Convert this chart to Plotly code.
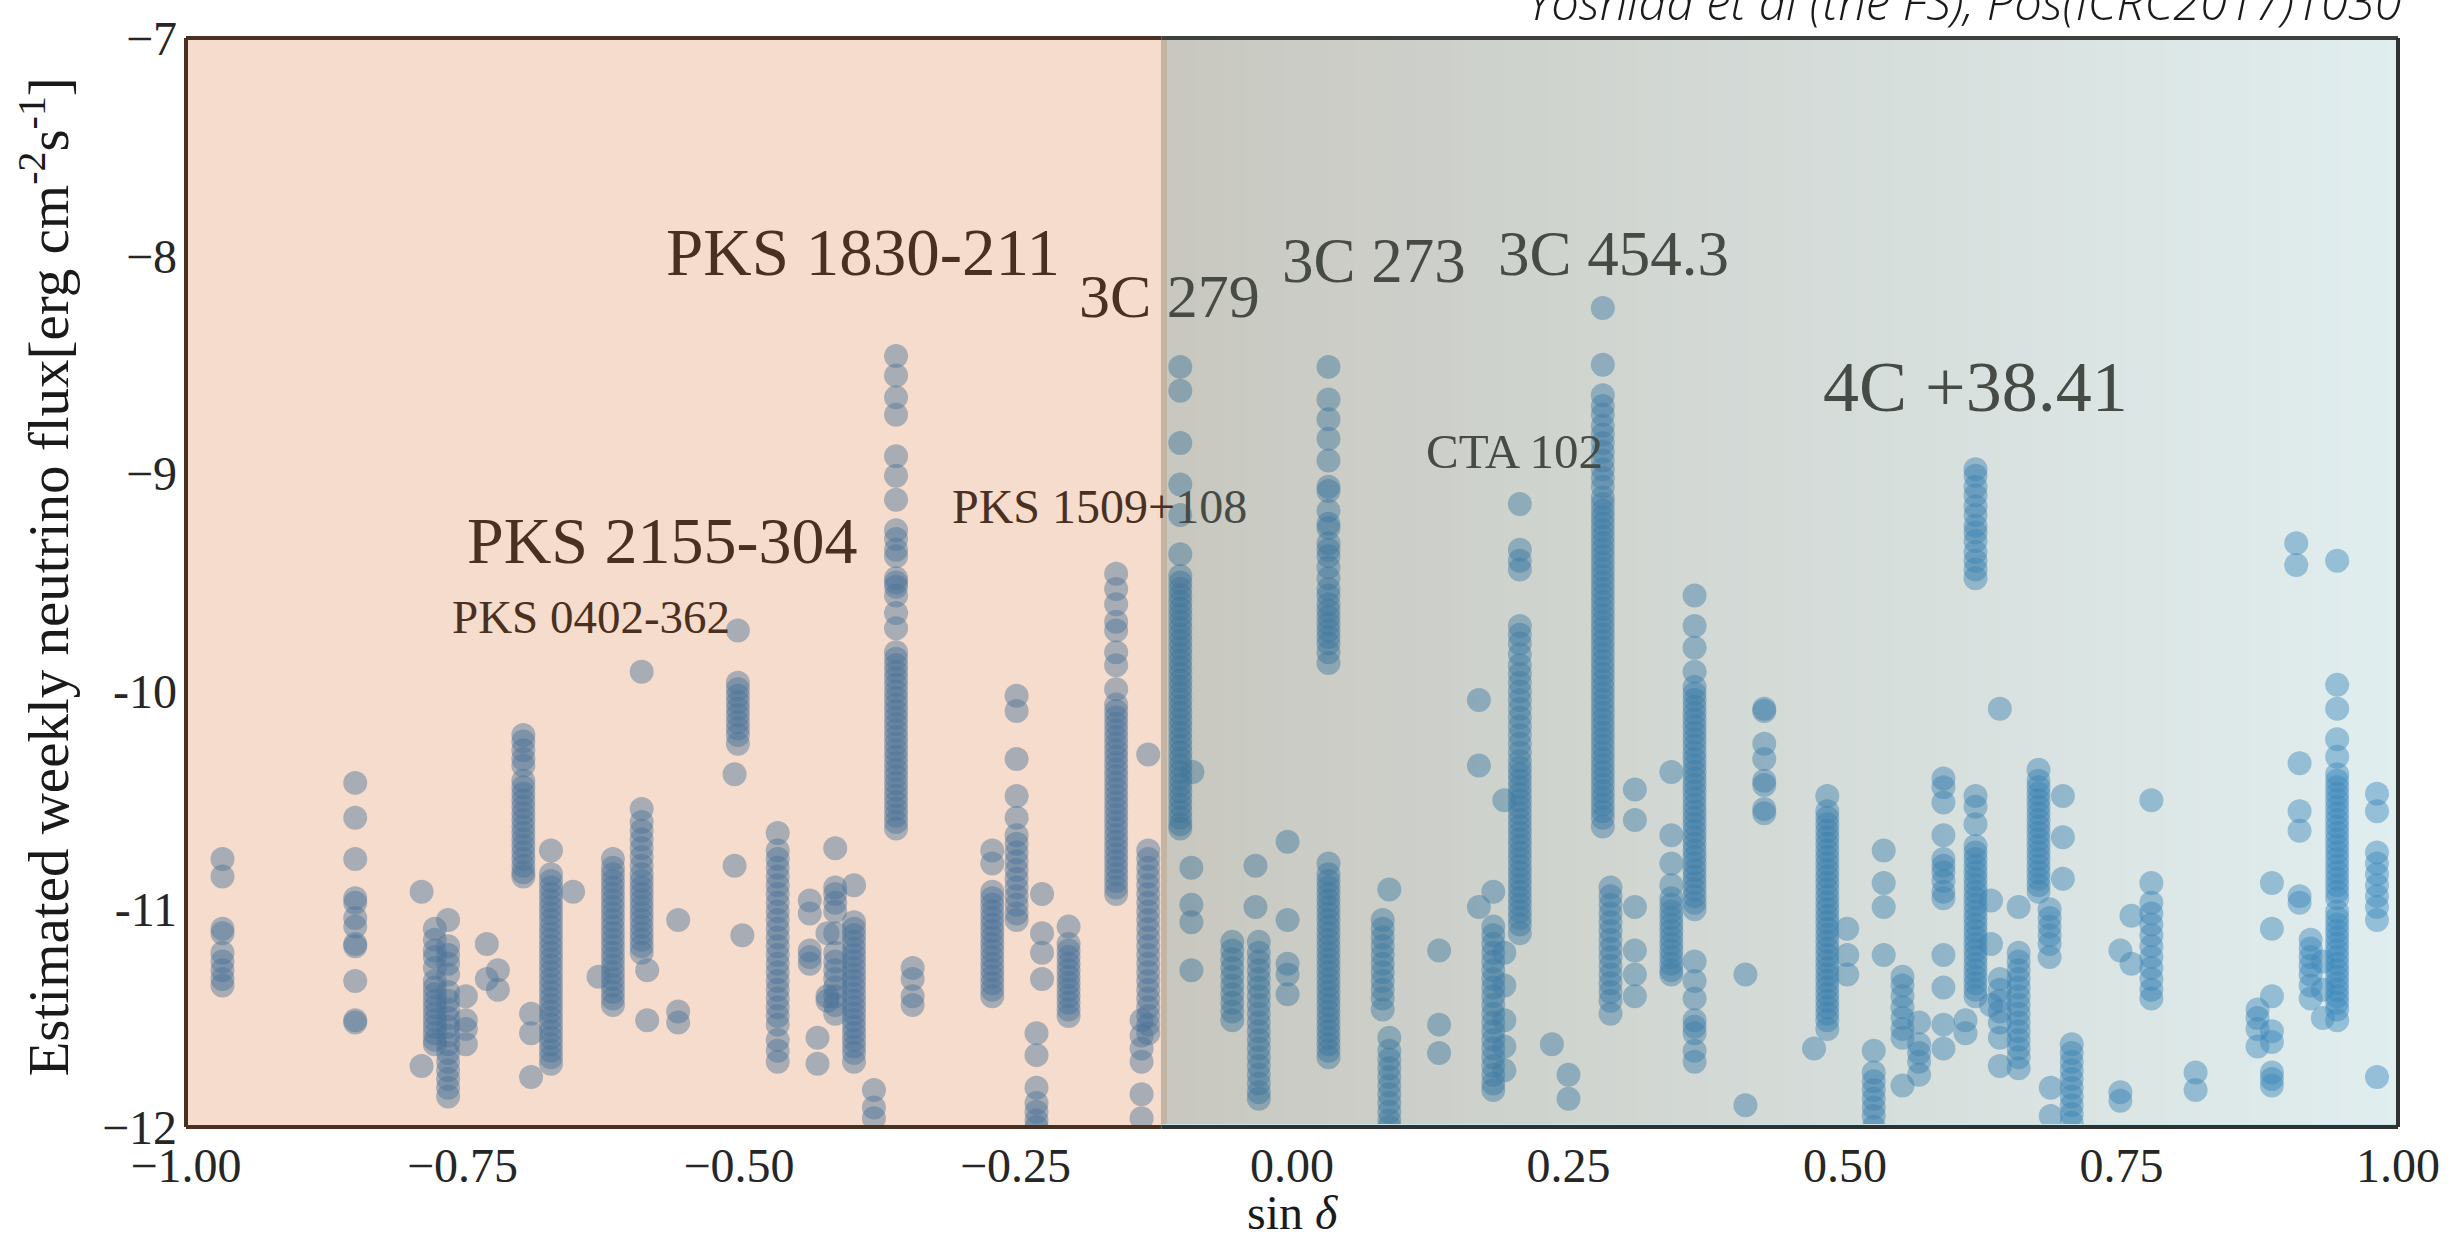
import base64
import struct
import zlib

import plotly.graph_objects as go

# ---------------------------------------------------------------------------
# Data: one entry per source column (sin of declination) with its weekly
# log10 flux estimates.
# ---------------------------------------------------------------------------
column_sin_dec = [
    -0.967, -0.847, -0.787, -0.775, -0.763, -0.747, -0.728, -0.718, -0.695, -0.688,
    -0.670, -0.650, -0.627, -0.614, -0.588, -0.583, -0.555, -0.501, -0.504, -0.497,
    -0.465, -0.436, -0.429, -0.420, -0.413, -0.396, -0.378, -0.358, -0.343, -0.271,
    -0.249, -0.226, -0.231, -0.202, -0.159, -0.130, -0.136, -0.101, -0.090, -0.091,
    -0.054, -0.033, -0.030, -0.004, 0.033, 0.088, 0.082, 0.133, 0.169, 0.182,
    0.192, 0.206, 0.235, 0.250, 0.281, 0.288, 0.310, 0.343, 0.364, 0.410,
    0.427, 0.472, 0.484, 0.502, 0.535, 0.526, 0.552, 0.567, 0.589, 0.618,
    0.609, 0.632, 0.640, 0.657, 0.675, 0.685, 0.697, 0.705, 0.686, 0.749,
    0.759, 0.777, 0.817, 0.873, 0.886, 0.908, 0.911, 0.921, 0.932, 0.945,
    0.981,
]

column_log_flux = [
    [-10.77, -10.85, -11.09, -11.11, -11.20, -11.24, -11.28, -11.32, -11.35],
    [-10.42, -10.58, -10.77, -10.95, -10.97, -11.04, -11.08, -11.16, -11.17, -11.33, -11.51, -11.52],
    [-10.92, -11.72],
    [-11.09, -11.14, -11.19, -11.22, -11.27, -11.33, -11.36, -11.39, -11.42, -11.45, -11.48, -11.51,
     -11.54, -11.57, -11.60, -11.62],
    [-11.05, -11.17, -11.21, -11.25, -11.30, -11.38, -11.42, -11.46, -11.50, -11.54, -11.58, -11.62,
     -11.66, -11.70, -11.74, -11.78, -11.82, -11.86],
    [-11.40, -11.51, -11.55, -11.62],
    [-11.16, -11.32],
    [-11.28, -11.37],
    [-10.20, -10.23, -10.27, -10.31, -10.34, -10.41, -10.44, -10.47, -10.50, -10.53, -10.56, -10.59,
     -10.62, -10.65, -10.68, -10.71, -10.74, -10.77, -10.80, -10.83, -10.85],
    [-11.48, -11.57, -11.77],
    [-10.73, -10.84, -10.87, -10.90, -10.93, -10.96, -10.99, -11.02, -11.05, -11.08, -11.11, -11.14,
     -11.17, -11.20, -11.23, -11.26, -11.29, -11.32, -11.35, -11.38, -11.41, -11.44, -11.47, -11.50,
     -11.53, -11.56, -11.59, -11.62, -11.65, -11.68, -11.71],
    [-10.92],
    [-11.31],
    [-10.77, -10.81, -10.84, -10.87, -10.90, -10.93, -10.96, -10.99, -11.02, -11.05, -11.08, -11.11,
     -11.14, -11.17, -11.20, -11.23, -11.26, -11.29, -11.32, -11.35, -11.38, -11.41, -11.44],
    [-9.91, -10.54, -10.60, -10.64, -10.68, -10.72, -10.76, -10.80, -10.84, -10.87, -10.90, -10.93,
     -10.96, -10.99, -11.02, -11.05, -11.08, -11.11, -11.14, -11.17, -11.20],
    [-11.28, -11.51],
    [-11.05, -11.47, -11.52],
    [-9.72, -9.96, -9.99, -10.02, -10.05, -10.08, -10.11, -10.14, -10.17, -10.20, -10.24],
    [-10.38, -10.80],
    [-11.12],
    [-10.65, -10.73, -10.77, -10.81, -10.85, -10.89, -10.93, -10.97, -11.01, -11.05, -11.09, -11.13,
     -11.17, -11.21, -11.25, -11.29, -11.33, -11.37, -11.41, -11.45, -11.49, -11.53, -11.60, -11.65,
     -11.70],
    [-10.96, -11.02, -11.19, -11.22, -11.25],
    [-11.59, -11.71],
    [-11.11, -11.40, -11.42],
    [-10.72, -10.90, -10.93, -10.97, -11.01, -11.11, -11.20, -11.24, -11.28, -11.32, -11.36, -11.40,
     -11.44, -11.48],
    [-10.89, -11.06, -11.09, -11.12, -11.15, -11.18, -11.21, -11.24, -11.27, -11.30, -11.33, -11.36,
     -11.39, -11.42, -11.45, -11.48, -11.51, -11.54, -11.57, -11.60, -11.63, -11.66, -11.70],
    [-11.83, -11.91, -11.96],
    [-8.46, -8.55, -8.65, -8.73, -8.92, -9.01, -9.12, -9.26, -9.30, -9.35, -9.38, -9.48, -9.50, -9.52,
     -9.56, -9.64, -9.71, -9.82, -9.85, -9.88, -9.91, -9.94, -9.97, -10.00, -10.03, -10.06, -10.09,
     -10.12, -10.15, -10.18, -10.21, -10.24, -10.27, -10.30, -10.33, -10.36, -10.39, -10.42, -10.45,
     -10.48, -10.51, -10.54, -10.57, -10.60, -10.63],
    [-11.27, -11.32, -11.40, -11.44],
    [-10.73, -10.79, -10.92, -10.95, -10.98, -11.01, -11.04, -11.07, -11.10, -11.13, -11.16, -11.19,
     -11.22, -11.25, -11.28, -11.31, -11.34, -11.37, -11.40],
    [-10.02, -10.09, -10.31, -10.48, -10.58, -10.66, -10.70, -10.74, -10.78, -10.82, -10.86, -10.90,
     -10.94, -10.98, -11.02, -11.05],
    [-10.93, -11.11, -11.20, -11.32],
    [-11.57, -11.67, -11.82, -11.89, -11.93, -11.97, -12.00],
    [-11.08, -11.16, -11.19, -11.22, -11.25, -11.28, -11.31, -11.34, -11.37, -11.40, -11.43, -11.46,
     -11.49],
    [-9.46, -9.53, -9.60, -9.68, -9.72, -9.82, -9.88, -9.99, -10.06, -10.09, -10.12, -10.15, -10.18,
     -10.21, -10.24, -10.27, -10.30, -10.33, -10.36, -10.39, -10.42, -10.45, -10.48, -10.51, -10.54,
     -10.57, -10.60, -10.63, -10.66, -10.69, -10.72, -10.75, -10.78, -10.81, -10.84, -10.87, -10.90,
     -10.93],
    [-10.29, -10.73, -10.77, -10.81, -10.85, -10.89, -10.93, -10.97, -11.01, -11.05, -11.09, -11.13,
     -11.17, -11.21, -11.25, -11.29, -11.33, -11.37, -11.41, -11.45, -11.49, -11.53, -11.57],
    [-11.51, -11.58, -11.64, -11.70, -11.85, -11.96],
    [-8.51, -8.62, -8.86, -9.05, -9.19, -9.37, -9.47, -9.50, -9.53, -9.56, -9.59, -9.62, -9.65, -9.68,
     -9.71, -9.74, -9.77, -9.80, -9.83, -9.86, -9.89, -9.92, -9.95, -9.98, -10.01, -10.04, -10.07,
     -10.10, -10.13, -10.16, -10.19, -10.22, -10.25, -10.28, -10.31, -10.34, -10.37, -10.40, -10.43,
     -10.46, -10.49, -10.52, -10.55, -10.58, -10.61, -10.63],
    [-10.37],
    [-10.81, -10.98, -11.06, -11.28],
    [-11.15, -11.19, -11.23, -11.27, -11.31, -11.35, -11.39, -11.43, -11.47, -11.51],
    [-10.80, -10.99],
    [-11.15, -11.20, -11.24, -11.28, -11.32, -11.36, -11.40, -11.44, -11.48, -11.52, -11.56, -11.60,
     -11.64, -11.68, -11.72, -11.76, -11.80, -11.84, -11.87],
    [-10.69, -11.05, -11.25, -11.30, -11.39],
    [-8.51, -8.66, -8.75, -8.84, -8.94, -9.06, -9.08, -9.17, -9.23, -9.25, -9.32, -9.35, -9.38, -9.43,
     -9.48, -9.53, -9.56, -9.60, -9.63, -9.66, -9.69, -9.72, -9.75, -9.78, -9.82, -9.87, -10.79,
     -10.84, -10.87, -10.90, -10.93, -10.96, -10.99, -11.02, -11.05, -11.08, -11.11, -11.14, -11.17,
     -11.20, -11.23, -11.26, -11.29, -11.32, -11.35, -11.38, -11.41, -11.44, -11.47, -11.50, -11.53,
     -11.56, -11.59, -11.62, -11.65, -11.68],
    [-10.91, -11.59, -11.65, -11.69, -11.73, -11.77, -11.81, -11.85, -11.89, -11.93, -11.97, -12.00],
    [-11.05, -11.09, -11.13, -11.17, -11.21, -11.25, -11.29, -11.33, -11.37, -11.41, -11.46],
    [-11.19, -11.53, -11.66],
    [-10.04, -10.34, -10.99],
    [-10.92, -11.08, -11.12, -11.16, -11.20, -11.24, -11.28, -11.32, -11.36, -11.40, -11.44, -11.48,
     -11.52, -11.56, -11.60, -11.64, -11.68, -11.72, -11.76, -11.80, -11.83],
    [-10.50, -11.20, -11.35, -11.51, -11.63, -11.74],
    [-9.14, -9.35, -9.40, -9.44, -9.70, -9.74, -9.78, -9.83, -9.88, -9.92, -9.96, -10.00, -10.04,
     -10.08, -10.12, -10.16, -10.20, -10.24, -10.28, -10.32, -10.35, -10.38, -10.41, -10.44, -10.47,
     -10.50, -10.53, -10.56, -10.59, -10.62, -10.65, -10.68, -10.71, -10.74, -10.77, -10.80, -10.83,
     -10.86, -10.89, -10.92, -10.95, -10.98, -11.01, -11.04, -11.07, -11.11],
    [-11.62],
    [-11.76, -11.87],
    [-8.24, -8.50, -8.64, -8.69, -8.73, -8.78, -8.82, -8.86, -8.90, -8.94, -8.98, -9.02, -9.06, -9.11,
     -9.14, -9.17, -9.20, -9.23, -9.26, -9.29, -9.32, -9.35, -9.38, -9.41, -9.44, -9.47, -9.50, -9.53,
     -9.56, -9.59, -9.62, -9.65, -9.68, -9.71, -9.74, -9.77, -9.80, -9.83, -9.86, -9.89, -9.92, -9.95,
     -9.98, -10.01, -10.04, -10.07, -10.10, -10.13, -10.16, -10.19, -10.22, -10.25, -10.28, -10.31,
     -10.34, -10.37, -10.40, -10.43, -10.46, -10.49, -10.52, -10.55, -10.58, -10.62],
    [-10.90, -10.94, -10.98, -11.02, -11.06, -11.10, -11.14, -11.18, -11.22, -11.26, -11.30, -11.34,
     -11.38, -11.42, -11.48],
    [-10.45, -10.59, -10.99, -11.19, -11.30, -11.40],
    [-10.37, -10.66, -10.79, -10.89, -10.95, -10.98, -11.01, -11.04, -11.07, -11.10, -11.13, -11.16,
     -11.19, -11.22, -11.25, -11.28, -11.30],
    [-9.56, -9.70, -9.80, -9.91, -9.98, -10.01, -10.04, -10.07, -10.10, -10.13, -10.16, -10.19, -10.22,
     -10.25, -10.28, -10.31, -10.34, -10.37, -10.40, -10.43, -10.46, -10.49, -10.52, -10.55, -10.58,
     -10.61, -10.64, -10.67, -10.70, -10.73, -10.76, -10.79, -10.82, -10.85, -10.88, -10.91, -10.94,
     -10.97, -11.00, -11.24, -11.33, -11.41, -11.51, -11.54, -11.57, -11.65, -11.70],
    [-11.30, -11.90],
    [-10.08, -10.09, -10.24, -10.31, -10.41, -10.43, -10.54, -10.56],
    [-11.64],
    [-10.48, -10.55, -10.58, -10.61, -10.64, -10.67, -10.70, -10.73, -10.76, -10.79, -10.82, -10.85,
     -10.88, -10.91, -10.94, -10.97, -11.00, -11.03, -11.06, -11.09, -11.12, -11.15, -11.18, -11.21,
     -11.24, -11.27, -11.30, -11.33, -11.36, -11.39, -11.42, -11.45, -11.48, -11.51, -11.55],
    [-11.09, -11.21, -11.30],
    [-10.73, -10.88, -10.99, -11.21],
    [-11.65, -11.75, -11.79, -11.83, -11.87, -11.91, -11.95, -12.00],
    [-11.31, -11.35, -11.40, -11.45, -11.50, -11.55, -11.59, -11.81],
    [-11.52, -11.62, -11.66, -11.70, -11.76],
    [-10.40, -10.44, -10.51, -10.66, -10.77, -10.80, -10.83, -10.87, -10.92, -10.95, -11.21, -11.36,
     -11.53, -11.64],
    [-8.98, -9.01, -9.06, -9.10, -9.15, -9.19, -9.24, -9.27, -9.31, -9.36, -9.40, -9.44, -9.48,
     -10.48, -10.53, -10.61, -10.71, -10.74, -10.77, -10.80, -10.83, -10.86, -10.89, -10.92, -10.95,
     -10.98, -11.01, -11.04, -11.07, -11.10, -11.13, -11.16, -11.19, -11.22, -11.25, -11.28, -11.31,
     -11.34, -11.37, -11.40],
    [-11.51, -11.57],
    [-10.96, -11.16, -11.44],
    [-10.08, -11.32, -11.37, -11.42, -11.47, -11.52, -11.59, -11.72],
    [-10.99, -11.20, -11.24, -11.28, -11.32, -11.36, -11.40, -11.44, -11.48, -11.52, -11.56, -11.60,
     -11.64, -11.68, -11.73],
    [-10.36, -10.41, -10.44, -10.47, -10.50, -10.53, -10.56, -10.59, -10.62, -10.65, -10.68, -10.71,
     -10.74, -10.77, -10.80, -10.83, -10.86, -10.89, -10.92],
    [-11.00, -11.04, -11.08, -11.12, -11.16, -11.22],
    [-10.48, -10.67, -10.86],
    [-11.62, -11.66, -11.70, -11.74, -11.78, -11.82, -11.86, -11.90, -11.94, -11.98],
    [-11.82, -11.95],
    [-11.19, -11.84, -11.88],
    [-11.03, -11.25],
    [-10.50, -10.88, -10.97, -11.02, -11.07, -11.12, -11.17, -11.22, -11.27, -11.32, -11.37, -11.41],
    [-11.75, -11.83],
    [-11.46, -11.50, -11.55, -11.63],
    [-10.88, -11.09, -11.40, -11.56, -11.61, -11.75, -11.78, -11.81],
    [-9.32, -9.42],
    [-10.33, -10.55, -10.64, -10.94, -10.97],
    [-11.14, -11.18, -11.22, -11.26, -11.30, -11.35, -11.41],
    [-11.24, -11.37, -11.50],
    [-9.40, -9.97, -10.08, -10.22, -10.30, -10.38, -10.41, -10.44, -10.47, -10.50, -10.53, -10.56,
     -10.59, -10.62, -10.65, -10.68, -10.71, -10.74, -10.77, -10.80, -10.83, -10.86, -10.89, -10.92,
     -10.95, -11.01, -11.04, -11.07, -11.10, -11.13, -11.16, -11.19, -11.22, -11.25, -11.28, -11.31,
     -11.34, -11.37, -11.40, -11.43, -11.46, -11.51],
    [-10.47, -10.55, -10.74, -10.79, -10.84, -10.89, -10.94, -10.99, -11.05, -11.77],
]

source_names = [
    "PKS 1830-211", "3C 279", "3C 273", "3C 454.3", "4C +38.41",
    "CTA 102", "PKS 1509+108", "PKS 2155-304", "PKS 0402-362",
]

x_tick_values = [-1.0, -0.75, -0.5, -0.25, 0.0, 0.25, 0.5, 0.75, 1.0]
x_tick_text = ["\u22121.00", "\u22120.75", "\u22120.50", "\u22120.25", "0.00", "0.25", "0.50", "0.75", "1.00"]
y_tick_values = [-12, -11, -10, -9, -8, -7]
y_tick_text = ["\u221212", "-11", "-10", "\u22129", "\u22128", "\u22127"]

sky_split = -0.118  # sin(dec) where the southern shading ends

# ---------------------------------------------------------------------------
# Figure geometry
# ---------------------------------------------------------------------------
W, H = 2452, 1237
ML, MR, MT, MB = 186, 47, 26, 110
PW = W - ML - MR
SERIF = "Liberation Serif, DejaVu Serif, serif"

xs = [s for s, ys in zip(column_sin_dec, column_log_flux) for _ in ys]
ys = [v for vals in column_log_flux for v in vals]


# ---------------------------------------------------------------------------
# Translucent tint laid over the panel (warm on the south side, grey-to-cyan
# gradient on the north side), encoded as a one-row RGBA PNG.
# ---------------------------------------------------------------------------
def png_bytes(width, rows):
    raw = b"".join(b"\x00" + r for r in rows)

    def chunk(tag, data):
        body = tag + data
        return struct.pack(">I", len(data)) + body + struct.pack(">I", zlib.crc32(body) & 0xFFFFFFFF)

    ihdr = struct.pack(">IIBBBBB", width, len(rows), 8, 6, 0, 0, 0)
    return (b"\x89PNG\r\n\x1a\n" + chunk(b"IHDR", ihdr)
            + chunk(b"IDAT", zlib.compress(raw, 9)) + chunk(b"IEND", b""))


split_px = round((sky_split + 1) / 2 * PW)
warm_alpha, warm_pre = 0.324, (74.0, 48.0, 32.0)          # premultiplied colour
cool_a0, cool_pre0 = 0.46, (62.0, 62.0, 54.0)
cool_a1, cool_pre1 = 0.35, (59.0, 72.0, 73.0)
row = bytearray()
for i in range(PW):
    a, pre = 0.0, (0.0, 0.0, 0.0)
    if i < split_px + 5:
        a, pre = warm_alpha, warm_pre
    if i >= split_px - 1:
        t = (i - (split_px - 1)) / max(1, PW - split_px)
        ca = cool_a0 + (cool_a1 - cool_a0) * t
        cp = tuple(p0 + (p1 - p0) * t for p0, p1 in zip(cool_pre0, cool_pre1))
        pre = tuple(c + p * (1 - ca) for c, p in zip(cp, pre))
        a = ca + a * (1 - ca)
    rgb = [min(255, max(0, round(p / a))) if a > 0 else 0 for p in pre]
    row += bytes(rgb + [round(a * 255)])
tint_src = "data:image/png;base64," + base64.b64encode(png_bytes(PW, [bytes(row)])).decode()

# ---------------------------------------------------------------------------
fig = go.Figure()
fig.add_trace(go.Scatter(
    x=xs, y=ys, mode="markers",
    marker=dict(size=24, color="rgb(0,100,180)", opacity=0.45, line=dict(width=0)),
    hoverinfo="skip", showlegend=False,
))

fig.add_layout_image(dict(
    source=tint_src, xref="paper", yref="paper", x=0, y=1, sizex=1, sizey=1,
    xanchor="left", yanchor="top", sizing="stretch", layer="above",
))

south_text = "#4a3020"
north_text = "#474b46"

# frame, coloured the way it shows through the tint
split_paper = (sky_split + 1) / 2
frame = [
    (0, 0, 0, 1, south_text),
    (0, 1, split_paper, 1, south_text),
    (split_paper, 1, 1, 1, "#3d403c"),
    (0, 0, split_paper, 0, south_text),
    (split_paper, 0, 1, 0, "#2f3230"),
    (1, 0, 1, 1, "#2f3230"),
]
# thin pale strip along the north part of the bottom edge
fig.add_shape(type="rect", xref="x", yref="paper", x0=sky_split, x1=1, y0=0, y1=3.0 / (H - MT - MB),
              fillcolor="rgb(196,228,236)", line=dict(width=0), layer="above")
for x0, y0, x1, y1, col in frame:
    fig.add_shape(type="line", xref="paper", yref="paper", x0=x0, y0=y0, x1=x1, y1=y1,
                  line=dict(color=col, width=4), layer="above")

# source label placement: (sin dec, log flux, font size)
label_layout = [
    (-0.388, -8.02, 67), (-0.111, -8.22, 62), (0.074, -8.06, 63), (0.291, -8.03, 63),
    (0.618, -8.64, 72), (0.201, -8.935, 49), (-0.174, -9.19, 48), (-0.569, -9.345, 66),
    (-0.634, -9.695, 47),
]
for name, (lx, ly, size) in zip(source_names, label_layout):
    if name == "3C 279":
        text = f"3C <span style='color:{north_text}'>279</span>"
        colour = south_text
    elif name == "PKS 1509+108":
        text = f"PKS 1509+<span style='color:{north_text}'>108</span>"
        colour = south_text
    else:
        text = name
        colour = south_text if lx < sky_split else north_text
    fig.add_annotation(x=lx, y=ly, xref="x", yref="y", yshift=8, text=text, showarrow=False,
                       font=dict(family=SERIF, size=size, color=colour),
                       xanchor="center", yanchor="middle")

# axis titles
fig.add_annotation(x=0.0, y=0, xref="x", yref="paper", yshift=-85, text="sin <i>\u03b4</i>",
                   showarrow=False, font=dict(family=SERIF, size=48, color="#1a1a1a"),
                   xanchor="center", yanchor="middle")
fig.add_annotation(x=0, y=0.5, xref="paper", yref="paper", xshift=-142, yshift=5, textangle=-90,
                   text="Estimated weekly neutrino flux[erg cm<sup>-2</sup>s<sup>-1</sup>]",
                   showarrow=False, font=dict(family=SERIF, size=57, color="#1a1a1a"),
                   xanchor="center", yanchor="middle")

# citation running off the top edge
fig.add_annotation(x=1, y=1, xref="paper", yref="paper", xshift=6, yshift=2,
                   text="Yoshida et al (the FS), Pos(ICRC2017)1030",
                   showarrow=False, xanchor="right", yanchor="bottom",
                   font=dict(family="Open Sans", size=49, color="#1a1a1a", style="italic", weight=300))

fig.update_layout(
    width=W, height=H,
    margin=dict(l=ML, r=MR, t=MT, b=MB, pad=0),
    paper_bgcolor="white", plot_bgcolor="white",
    showlegend=False,
    xaxis=dict(range=[-1, 1], showgrid=False, zeroline=False, showline=False, ticks="",
               tickmode="array", tickvals=x_tick_values, ticktext=x_tick_text,
               tickfont=dict(family=SERIF, size=48, color="#262626"), ticklabelstandoff=6,
               ticklabeloverflow="allow"),
    yaxis=dict(range=[-12, -7], showgrid=False, zeroline=False, showline=False, ticks="",
               tickmode="array", tickvals=y_tick_values, ticktext=y_tick_text,
               tickfont=dict(family=SERIF, size=48, color="#262626"), ticklabelstandoff=8,
               ticklabeloverflow="allow"),
)

fig.write_html("out.html")
